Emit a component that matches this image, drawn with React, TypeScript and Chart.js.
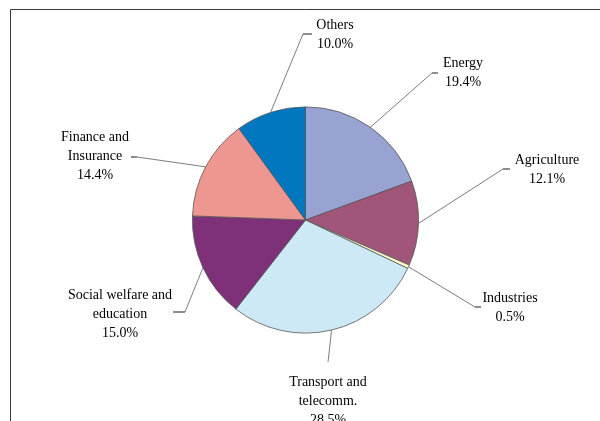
import React, { useEffect, useRef } from "react";
import { Chart, registerables } from "chart.js";

Chart.register(...registerables);

const categories = [
  "Energy",
  "Agriculture",
  "Industries",
  "Transport and telecomm.",
  "Social welfare and education",
  "Finance and Insurance",
  "Others",
];
const shares = [19.4, 12.1, 0.5, 28.5, 15.0, 14.4, 10.0];
const labelLines = [
  ["Energy"],
  ["Agriculture"],
  ["Industries"],
  ["Transport and", "telecomm."],
  ["Social welfare and", "education"],
  ["Finance and", "Insurance"],
  ["Others"],
];
const sliceColors = ["#99A3D2", "#A05579", "#FFFFCC", "#CCE9F5", "#7E3179", "#EE9690", "#0077BF"];

// label placement relative to pie centre (layout only)
const labelLayout = [
  { ex: 126.5, ey: -147, tx: 132.5, cx: 157.5, cy: -157 },
  { ex: 197.5, ey: -51, tx: 204.5, cx: 241.5, cy: -60 },
  { ex: 169.5, ey: 87, tx: 175.5, cx: 204.5, cy: 78 },
  { ex: 22.5, ey: 142, tx: 22.5, cx: 22.5, cy: 162 },
  { ex: -120.5, ey: 92, tx: -132.5, cx: -185.5, cy: 75 },
  { ex: -168.5, ey: -63, tx: -174.5, cx: -210.5, cy: -83 },
  { ex: -2.5, ey: -186, tx: 6.5, cx: 29.5, cy: -195 },
];

const LINE_H = 19.3;

const leaderPlugin = {
  id: "leaders",
  beforeDraw(chart: any) {
    const ctx = chart.ctx;
    ctx.save();
    ctx.strokeStyle = "#3a3a3a";
    ctx.lineWidth = 1;
    ctx.beginPath();
    ctx.moveTo(10.5, 421);
    ctx.lineTo(10.5, 9.5);
    ctx.lineTo(600, 9.5);
    ctx.stroke();
    ctx.restore();
  },
  afterDraw(chart: any) {
    const ctx = chart.ctx;
    const meta = chart.getDatasetMeta(0);
    ctx.save();
    meta.data.forEach((arc: any, i: number) => {
      const { x, y, outerRadius, startAngle, endAngle } = arc.getProps(
        ["x", "y", "outerRadius", "startAngle", "endAngle"],
        true
      );
      const mid = (startAngle + endAngle) / 2;
      const px = x + Math.cos(mid) * outerRadius;
      const py = y + Math.sin(mid) * outerRadius;
      const L = labelLayout[i];
      ctx.strokeStyle = "#6e6e6e";
      ctx.lineWidth = 0.9;
      ctx.beginPath();
      ctx.moveTo(px, py);
      ctx.lineTo(x + L.ex, y + L.ey);
      ctx.stroke();
      ctx.strokeStyle = "#444";
      ctx.lineWidth = 1.2;
      ctx.beginPath();
      ctx.moveTo(x + L.ex, y + L.ey);
      ctx.lineTo(x + L.tx, y + L.ey);
      ctx.stroke();
      const lines = [...labelLines[i], shares[i].toFixed(1) + "%"];
      ctx.fillStyle = "#000";
      ctx.font = '14px "Liberation Serif"';
      ctx.textAlign = "center";
      ctx.textBaseline = "middle";
      lines.forEach((t, k) => {
        ctx.fillText(t, x + L.cx, y + L.cy + k * LINE_H);
      });
    });
    ctx.restore();
  },
};

export default function App() {
  const ref = useRef<HTMLCanvasElement>(null);
  useEffect(() => {
    document.body.style.margin = "0";
    const chart = new Chart(ref.current!, {
      type: "pie",
      data: {
        labels: categories,
        datasets: [
          {
            data: shares,
            backgroundColor: sliceColors,
            borderColor: "#555",
            borderWidth: 0.8,
          },
        ],
      },
      options: {
        animation: false,
        responsive: false,
        layout: { padding: { left: 192, right: 181, top: 106.5, bottom: 87.5 } },
        plugins: { legend: { display: false }, tooltip: { enabled: false } },
      },
      plugins: [leaderPlugin],
    });
    return () => chart.destroy();
  }, []);
  return (
    <div style={{ position: "absolute", left: 0, top: 0, width: 600, height: 421, background: "#fff" }}>
      <canvas ref={ref} width={600} height={421} />
    </div>
  );
}
